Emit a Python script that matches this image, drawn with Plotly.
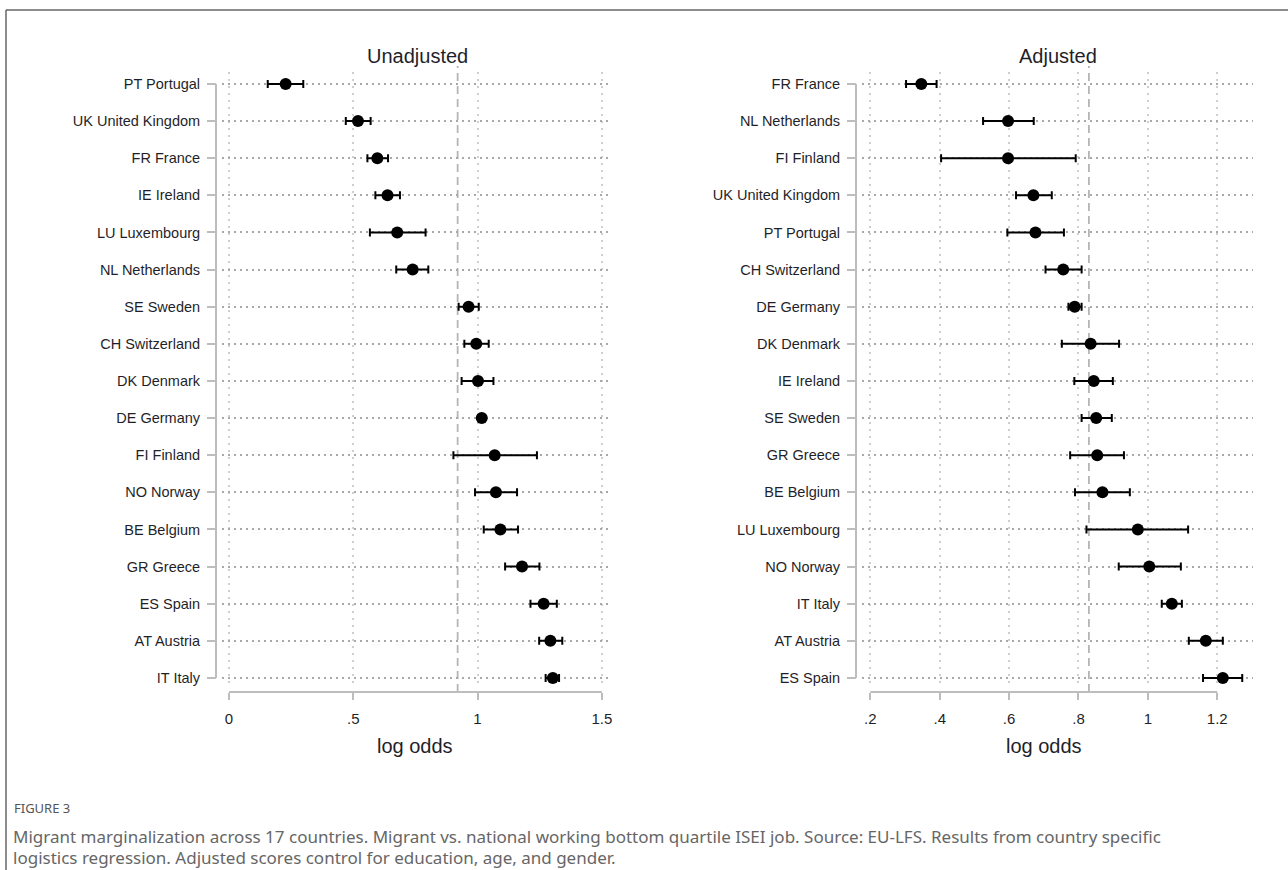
import plotly.graph_objects as go

W, H = 1288, 870

# ---------------- data ----------------
unadj_countries = ["PT Portugal", "UK United Kingdom", "FR France", "IE Ireland",
                   "LU Luxembourg", "NL Netherlands", "SE Sweden", "CH Switzerland",
                   "DK Denmark", "DE Germany", "FI Finland", "NO Norway",
                   "BE Belgium", "GR Greece", "ES Spain", "AT Austria", "IT Italy"]
unadj_est = [0.228, 0.519, 0.597, 0.638, 0.677, 0.739, 0.964, 0.995, 1.002,
             1.017, 1.069, 1.074, 1.092, 1.179, 1.266, 1.293, 1.303]
unadj_lo = [0.156, 0.470, 0.557, 0.589, 0.567, 0.673, 0.924, 0.947, 0.936,
            1.005, 0.903, 0.990, 1.025, 1.111, 1.213, 1.248, 1.274]
unadj_hi = [0.299, 0.570, 0.640, 0.688, 0.791, 0.802, 1.005, 1.045, 1.064,
            1.028, 1.239, 1.159, 1.163, 1.249, 1.319, 1.341, 1.328]
unadj_ref = 0.92

adj_countries = ["FR France", "NL Netherlands", "FI Finland", "UK United Kingdom",
                 "PT Portugal", "CH Switzerland", "DE Germany", "DK Denmark",
                 "IE Ireland", "SE Sweden", "GR Greece", "BE Belgium",
                 "LU Luxembourg", "NO Norway", "IT Italy", "AT Austria", "ES Spain"]
adj_est = [0.347, 0.597, 0.597, 0.670, 0.676, 0.756, 0.789, 0.835, 0.844,
           0.851, 0.854, 0.869, 0.971, 1.004, 1.069, 1.167, 1.216]
adj_lo = [0.303, 0.525, 0.404, 0.620, 0.595, 0.705, 0.771, 0.752, 0.788,
          0.809, 0.776, 0.790, 0.823, 0.916, 1.040, 1.118, 1.159]
adj_hi = [0.391, 0.671, 0.792, 0.723, 0.758, 0.809, 0.809, 0.917, 0.899,
          0.896, 0.931, 0.948, 1.116, 1.095, 1.098, 1.216, 1.272]
adj_ref = 0.83

unadj_ticks = [0, 0.5, 1, 1.5]
unadj_ticklabels = ["0", ".5", "1", "1.5"]
adj_ticks = [0.2, 0.4, 0.6, 0.8, 1.0, 1.2]
adj_ticklabels = [".2", ".4", ".6", ".8", "1", "1.2"]

panel_titles = ["Unadjusted", "Adjusted"]
axis_title = "log odds"
caption_label = "FIGURE 3"
caption_lines = [
    "Migrant marginalization across 17 countries. Migrant vs. national working bottom quartile ISEI job. Source: EU-LFS. Results from country specific",
    "logistics regression. Adjusted scores control for education, age, and gender.",
]

# ---------------- layout helpers ----------------
def px_x(p):
    return p / W


def px_y(p):
    return 1 - p / H


FONT = "Liberation Sans, Arial, sans-serif"
TXT = "#1f1f2a"
AXC = "#bdbdbd"

panels = [
    dict(cats=unadj_countries, est=unadj_est, lo=unadj_lo, hi=unadj_hi, ref=unadj_ref,
         ticks=unadj_ticks, labels=unadj_ticklabels, dom=(222, 612), rng=(-0.028, 1.541),
         yline=216, title=panel_titles[0]),
    dict(cats=adj_countries, est=adj_est, lo=adj_lo, hi=adj_hi, ref=adj_ref,
         ticks=adj_ticks, labels=adj_ticklabels, dom=(862, 1253), rng=(0.176, 1.303),
         yline=856, title=panel_titles[1]),
]

fig = go.Figure()
shapes = []
annotations = []
layout = {}

ydom = [px_y(685), px_y(72)]
xaxis_pos = px_y(692)

for i, p in enumerate(panels, start=1):
    xa = "x" if i == 1 else f"x{i}"
    ya = "y" if i == 1 else f"y{i}"
    xkey = "xaxis" if i == 1 else f"xaxis{i}"
    ykey = "yaxis" if i == 1 else f"yaxis{i}"
    n = len(p["cats"])

    fig.add_trace(go.Scatter(
        x=p["est"], y=p["cats"], xaxis=xa, yaxis=ya, mode="markers",
        marker=dict(color="black", size=12),
        error_x=dict(type="data", symmetric=False,
                     array=[h - e for h, e in zip(p["hi"], p["est"])],
                     arrayminus=[e - l for e, l in zip(p["est"], p["lo"])],
                     color="black", thickness=2, width=4),
        showlegend=False, cliponaxis=False, hoverinfo="skip",
    ))

    layout[xkey] = dict(
        domain=[px_x(p["dom"][0]), px_x(p["dom"][1])],
        range=list(p["rng"]), anchor="free", position=xaxis_pos,
        tickmode="array", tickvals=p["ticks"], ticktext=p["labels"],
        ticks="outside", ticklen=7, tickwidth=1.5, tickcolor=AXC,
        ticklabelstandoff=6,
        showline=False, zeroline=False,
        showgrid=True, gridcolor="#cfcfcf", griddash="2px,5px", gridwidth=1.5,
        tickfont=dict(family=FONT, size=15, color=TXT),
    )
    layout[ykey] = dict(
        domain=ydom, type="category", categoryorder="array", categoryarray=p["cats"],
        range=[n - 1 + 0.19, -0.323], anchor="free", position=px_x(p["yline"]),
        ticks="outside", ticklen=9, tickwidth=1.5, tickcolor=AXC,
        ticklabelstandoff=4,
        showline=False, zeroline=False,
        showgrid=True, gridcolor="#a8a8a8", griddash="2px,4px", gridwidth=1.6,
        tickfont=dict(family=FONT, size=14.5, color=TXT),
    )

    # reference (dashed) line
    shapes.append(dict(type="line", xref=xa, yref="paper", x0=p["ref"], x1=p["ref"],
                       y0=xaxis_pos, y1=px_y(66),
                       line=dict(color="#b5b5b5", width=1.8, dash="8px,5px"), layer="below"))
    # Stata-style axis lines
    shapes.append(dict(type="line", xref=xa, yref="paper", x0=p["ticks"][0], x1=p["ticks"][-1],
                       y0=xaxis_pos, y1=xaxis_pos, line=dict(color=AXC, width=2)))
    shapes.append(dict(type="line", xref="paper", yref=ya, x0=px_x(p["yline"]), x1=px_x(p["yline"]),
                       y0=0, y1=n - 1, line=dict(color=AXC, width=2)))

    annotations.append(dict(text=p["title"], xref=f"{xa} domain", yref="paper", x=0.5,
                            y=px_y(56), xanchor="center", yanchor="middle", showarrow=False,
                            font=dict(family=FONT, size=20, color=TXT)))
    annotations.append(dict(text=axis_title, xref=xa, yref="paper",
                            x=(p["ticks"][0] + p["ticks"][-1]) / 2, y=px_y(746),
                            xanchor="center", yanchor="middle", showarrow=False,
                            font=dict(family=FONT, size=20, color=TXT)))

# caption
annotations.append(dict(text=caption_label, xref="paper", yref="paper", x=px_x(12), y=px_y(808),
                        xanchor="left", yanchor="middle", showarrow=False,
                        font=dict(family="Noto Sans, sans-serif", size=13, color="#555")))
for k, line in enumerate(caption_lines):
    annotations.append(dict(text=line, xref="paper", yref="paper", x=px_x(11),
                            y=px_y(836 + 21 * k), xanchor="left", yanchor="middle",
                            showarrow=False,
                            font=dict(family="Noto Sans, sans-serif", size=17, color="#666")))

# frame
shapes.append(dict(type="line", xref="paper", yref="paper", x0=px_x(6), x1=1,
                   y0=px_y(10), y1=px_y(10), line=dict(color="#666", width=1.5)))
shapes.append(dict(type="line", xref="paper", yref="paper", x0=px_x(6), x1=px_x(6),
                   y0=px_y(10), y1=0, line=dict(color="#666", width=1.5)))

fig.update_layout(
    width=W, height=H, margin=dict(l=0, r=0, t=0, b=0),
    paper_bgcolor="white", plot_bgcolor="white", hovermode=False,
    shapes=shapes, annotations=annotations, **layout,
)

fig.write_html("out.html", config={"displayModeBar": False},
               post_script="document.body.style.margin='0';document.body.style.overflow='hidden';")
